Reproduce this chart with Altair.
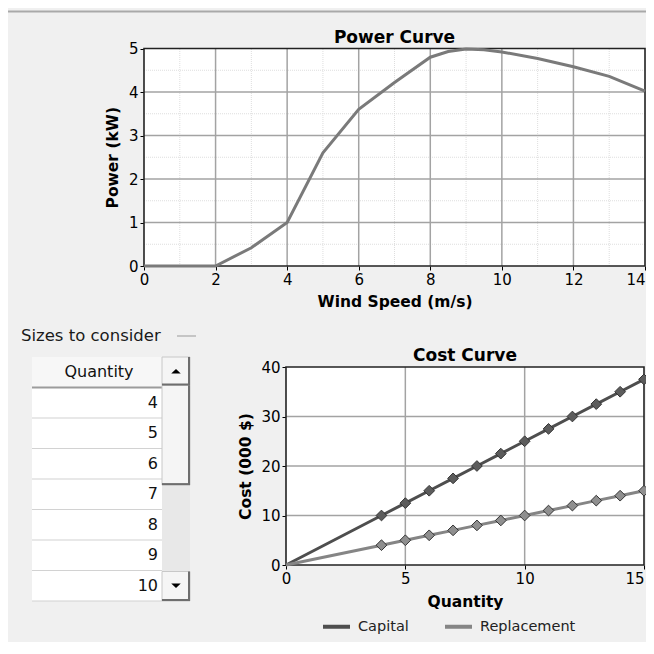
import altair as alt
import pandas as pd

# ------------------------------------------------------------------ data
wind_speed = [0, 1, 2, 3, 4, 5, 6, 7, 8, 8.5, 9, 9.5, 10, 11, 12, 13, 14]
power_kw = [0, 0, 0, 0.42, 1.0, 2.6, 3.6, 4.22, 4.8, 4.93, 4.99, 4.97, 4.92, 4.77, 4.58, 4.36, 4.02]

cost_quantity = [0, 4, 5, 6, 7, 8, 9, 10, 11, 12, 13, 14, 15]
capital_cost = [0, 10, 12.5, 15, 17.5, 20, 22.5, 25, 27.5, 30, 32.5, 35, 37.5]
replacement_cost = [0, 4, 5, 6, 7, 8, 9, 10, 11, 12, 13, 14, 15]
series_names = ["Capital", "Replacement"]

power_x_ticks = [0, 2, 4, 6, 8, 10, 12, 14]
power_y_ticks = [0, 1, 2, 3, 4, 5]
cost_x_ticks = [0, 5, 10, 15]
cost_y_ticks = [0, 10, 20, 30, 40]

panel_label = "Sizes to consider"
table_header = "Quantity"
table_sizes = [4, 5, 6, 7, 8, 9, 10]

# ------------------------------------------------------------------ layout / style
FONT = "DejaVu Sans"
W, H = 638, 634
M = 8  # page margin


def px(v):
    return v - M


P_L, P_R, P_T, P_B = 144, 645, 48.5, 266
C_L, C_R, C_T, C_B = 286, 644, 367, 565

MAJOR = "#a3a3a3"
MINOR = "#dedede"


def axis(orient, offset, values, title, pad, tpad, lsize=15, tsize=15.5, last=None):
    align = "center"
    if last is not None:
        align = {"condition": {"test": f"datum.value >= {last}", "value": "right"}, "value": "center"}
    return alt.Axis(
        orient=orient, offset=offset, values=values, title=title, grid=False,
        domain=False, tickSize=4, tickColor="#000", tickWidth=1,
        labelFont=FONT, labelFontSize=lsize, labelColor="#000", labelPadding=pad,
        labelFlush=False, labelOverlap=False, **({"labelAlign": align} if last is not None else {}),
        titleFont=FONT, titleFontSize=tsize, titleFontWeight="bold", titleColor="#000",
        titlePadding=tpad,
    )


def panel(xs, ys, xdom, ydom, xticks, yticks, xminor, yminor, xax, yax, title, lines):
    X = lambda f="x": alt.X(f + ":Q", scale=xs, axis=xax)
    Y = lambda f="y": alt.Y(f + ":Q", scale=ys, axis=yax)
    frame = pd.DataFrame({"x": [xdom[0]], "x2": [xdom[1]], "y": [ydom[0]], "y2": [ydom[1]]})
    layers = [
        alt.Chart(frame).mark_rect(fill="white").encode(x=X(), x2="x2:Q", y=Y(), y2="y2:Q"),
    ]
    if xminor:
        d = pd.DataFrame({"x": xminor, "y": ydom[0], "y2": ydom[1]})
        layers.append(alt.Chart(d).mark_rule(color=MINOR, strokeWidth=1, strokeDash=[1, 1])
                      .encode(x=X(), y=Y(), y2="y2:Q"))
    if yminor:
        d = pd.DataFrame({"y": yminor, "x": xdom[0], "x2": xdom[1]})
        layers.append(alt.Chart(d).mark_rule(color=MINOR, strokeWidth=1, strokeDash=[1, 1])
                      .encode(y=Y(), x=X(), x2="x2:Q"))
    d = pd.DataFrame({"x": [v for v in xticks if xdom[0] < v < xdom[1]], "y": ydom[0], "y2": ydom[1]})
    layers.append(alt.Chart(d).mark_rule(color=MAJOR, strokeWidth=1.5).encode(x=X(), y=Y(), y2="y2:Q"))
    d = pd.DataFrame({"y": [v for v in yticks if ydom[0] < v < ydom[1]], "x": xdom[0], "x2": xdom[1]})
    layers.append(alt.Chart(d).mark_rule(color=MAJOR, strokeWidth=1.5).encode(y=Y(), x=X(), x2="x2:Q"))
    layers.append(alt.Chart(frame).mark_rect(filled=False, stroke="#222", strokeWidth=1.6)
                  .encode(x=X(), x2="x2:Q", y=Y(), y2="y2:Q"))
    layers += lines(X, Y)
    t = pd.DataFrame({"x": [(xdom[0] + xdom[1]) / 2], "y": [ydom[1]], "t": [title]})
    layers.append(alt.Chart(t).mark_text(dy=-6, baseline="alphabetic", font=FONT, fontSize=17,
                                         fontWeight="bold", color="#000")
                  .encode(x=X(), y=Y(), text="t:N"))
    return alt.layer(*layers)


# ------------------------------------------------------------------ power curve
p_xs = alt.Scale(domain=[0, 14], range=[px(P_L), px(P_R)], nice=False, zero=False)
p_ys = alt.Scale(domain=[0, 5], range=[px(P_B), px(P_T)], nice=False, zero=False)
p_xax = axis("bottom", px(P_B) - H, power_x_ticks, "Wind Speed (m/s)", 2, 7, last=power_x_ticks[-1])
p_yax = axis("left", -px(P_L), power_y_ticks, "Power (kW)", 2, 8)
power_df = pd.DataFrame({"x": wind_speed, "y": power_kw})


def power_lines(X, Y):
    return [alt.Chart(power_df).mark_line(color="#7a7a7a", strokeWidth=3).encode(x=X(), y=Y())]


power = panel(p_xs, p_ys, [0, 14], [0, 5], power_x_ticks, power_y_ticks,
              [v + 1 for v in power_x_ticks[:-1]], [v + 0.5 for v in power_y_ticks[:-1]],
              p_xax, p_yax, "Power Curve", power_lines)

# ------------------------------------------------------------------ cost curve
c_xs = alt.Scale(domain=[0, 15], range=[px(C_L), px(C_R)], nice=False, zero=False)
c_ys = alt.Scale(domain=[0, 40], range=[px(C_B), px(C_T)], nice=False, zero=False)
c_xax = axis("bottom", px(C_B) - H, cost_x_ticks, "Quantity", 2, 8, last=cost_x_ticks[-1])
c_yax = axis("left", -px(C_L), cost_y_ticks, "Cost (000 $)", 2, 7)

cost_df = pd.DataFrame({
    "x": cost_quantity * 2,
    "y": capital_cost + replacement_cost,
    "series": [series_names[0]] * len(cost_quantity) + [series_names[1]] * len(cost_quantity),
})


def cost_lines(X, Y):
    line = alt.Chart(cost_df).mark_line(strokeWidth=3).encode(
        x=X(), y=Y(),
        color=alt.Color("series:N",
                        scale=alt.Scale(domain=series_names, range=["#4e4e4e", "#858585"]),
                        legend=alt.Legend(orient="none", legendX=px(321), legendY=px(611),
                                          direction="horizontal", title=None, symbolType="stroke",
                                          symbolStrokeWidth=4, symbolSize=729,
                                          labelFont=FONT, labelFontSize=14.5, labelColor="#222",
                                          labelOffset=6, columnPadding=28)),
    )
    pts = alt.Chart(cost_df).transform_filter("datum.x > 0").mark_point(
        shape="diamond", filled=True, size=115, stroke="#333", strokeWidth=1, opacity=1
    ).encode(
        x=X(), y=Y(),
        fill=alt.Fill("series:N",
                      scale=alt.Scale(domain=series_names, range=["#5c5c5c", "#8f8f8f"]),
                      legend=None),
    )
    return [line, pts]


cost = panel(c_xs, c_ys, [0, 15], [0, 40], cost_x_ticks, cost_y_ticks, [], [],
             c_xax, c_yax, "Cost Curve", cost_lines)

# ------------------------------------------------------------------ sizes table widget
wx = alt.Scale(domain=[M, W + M], range=[0, W], nice=False, zero=False)
wy = alt.Scale(domain=[M, H + M], range=[0, H], nice=False, zero=False)
WX = lambda f: alt.X(f + ":Q", scale=wx, axis=None)
WY = lambda f: alt.Y(f + ":Q", scale=wy, axis=None)

T_L, T_R, S_R = 32, 162, 190
T_TOP, ROW_H = 357, 30.5
rows = [table_header] + [str(v) for v in table_sizes]
rows_df = pd.DataFrame({
    "label": rows,
    "y0": [T_TOP + i * ROW_H for i in range(len(rows))],
    "y1": [T_TOP + (i + 1) * ROW_H for i in range(len(rows))],
    "x0": T_L, "x1": T_R,
})
rows_df["ym"] = (rows_df["y0"] + rows_df["y1"]) / 2
rows_df["xr"] = T_R - 4
rows_df["xc"] = (T_L + T_R) / 2 + 2
head = rows_df.iloc[:1]
body = rows_df.iloc[1:]

cells = alt.Chart(body).mark_rect(fill="white").encode(x=WX("x0"), x2="x1:Q", y=WY("y0"), y2="y1:Q")
head_rect = alt.Chart(head).mark_rect(fill="#f7f7f7").encode(x=WX("x0"), x2="x1:Q", y=WY("y0"), y2="y1:Q")
seps = alt.Chart(body).mark_rule(color="#d2d2d2", strokeWidth=1.2).encode(x=WX("x0"), x2="x1:Q", y=WY("y1"))
head_sep = alt.Chart(head).mark_rule(color="#9c9c9c", strokeWidth=2).encode(x=WX("x0"), x2="x1:Q", y=WY("y1"))
nums = alt.Chart(body).mark_text(align="right", baseline="middle", font=FONT, fontSize=16, color="#111").encode(
    x=WX("xr"), y=WY("ym"), text="label:N")
head_txt = alt.Chart(head).mark_text(align="center", baseline="middle", font=FONT, fontSize=16, color="#111").encode(
    x=WX("xc"), y=WY("ym"), text="label:N")

bottom = T_TOP + len(rows) * ROW_H
track = pd.DataFrame({"x0": [T_R], "x1": [S_R], "y0": [T_TOP], "y1": [bottom]})
buttons = pd.DataFrame({
    "x0": [T_R, T_R, T_R], "x1": [S_R, S_R, S_R],
    "y0": [T_TOP, T_TOP + ROW_H - 2, bottom - ROW_H + 1],
    "y1": [T_TOP + ROW_H - 2, T_TOP + 4.2 * ROW_H, bottom],
})
buttons["xe"] = buttons["x1"] - 1
buttons["ye"] = buttons["y1"] - 1
track_l = alt.Chart(track).mark_rect(fill="#e8e8e8").encode(x=WX("x0"), x2="x1:Q", y=WY("y0"), y2="y1:Q")
btn = alt.Chart(buttons).mark_rect(fill="#f5f5f5", stroke="#c8c8c8", strokeWidth=1).encode(
    x=WX("x0"), x2="x1:Q", y=WY("y0"), y2="y1:Q")
btn_r = alt.Chart(buttons).mark_rule(color="#6e6e6e", strokeWidth=2).encode(x=WX("xe"), y=WY("y0"), y2="y1:Q")
btn_b = alt.Chart(buttons).mark_rule(color="#6e6e6e", strokeWidth=2).encode(x=WX("x0"), x2="x1:Q", y=WY("ye"))

arrows = pd.DataFrame({"x": [(T_R + S_R) / 2] * 2,
                       "y": [T_TOP + ROW_H / 2 - 1, bottom - ROW_H / 2]})
up = alt.Chart(arrows.iloc[:1]).mark_point(shape="M-1,0.5L1,0.5L0,-0.5Z", filled=True, size=90,
                                            color="#000", opacity=1).encode(x=WX("x"), y=WY("y"))
down = alt.Chart(arrows.iloc[1:]).mark_point(shape="M-1,-0.5L1,-0.5L0,0.5Z", filled=True, size=90,
                                              color="#000", opacity=1).encode(x=WX("x"), y=WY("y"))

lab = pd.DataFrame({"x": [21], "y": [336], "t": [panel_label], "d0": [177], "d1": [196]})
label_txt = alt.Chart(lab).mark_text(align="left", baseline="middle", font=FONT, fontSize=16.5,
                                     color="#1a1a1a").encode(x=WX("x"), y=WY("y"), text="t:N")
dash = alt.Chart(lab).mark_rule(color="#a8a8a8", strokeWidth=1.2).encode(x=WX("d0"), x2="d1:Q", y=WY("y"))

sep = pd.DataFrame({"x0": [5], "x1": [654], "y": [11.5]})
top_sep = alt.Chart(sep).mark_rule(color="#a9a9a9", strokeWidth=2).encode(x=WX("x0"), x2="x1:Q", y=WY("y"))

table = alt.layer(top_sep, label_txt, dash, cells, head_rect, seps, head_sep, nums, head_txt,
                  track_l, btn, btn_r, btn_b, up, down)

# ------------------------------------------------------------------ compose
chart = (
    alt.layer(power, cost, table)
    .resolve_scale(x="independent", y="independent", color="independent", fill="independent")
    .properties(width=W, height=H, padding=0, autosize=alt.AutoSizeParams(type="none"),
                background="#f0f0f0")
    .configure_view(stroke="transparent")
)

chart.save("out.html", embed_options={"renderer": "svg", "actions": False})
